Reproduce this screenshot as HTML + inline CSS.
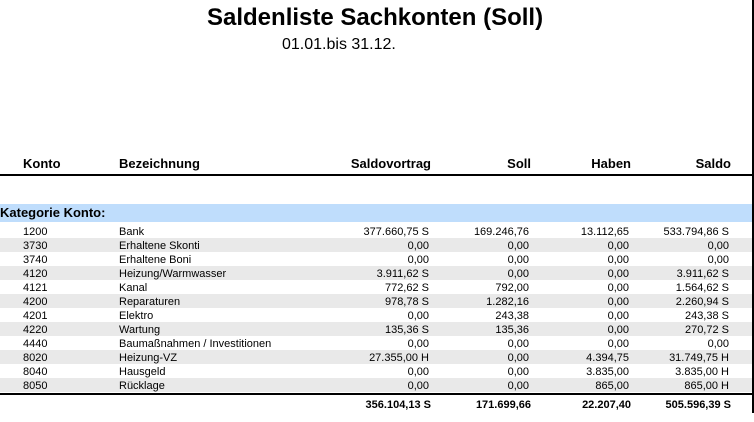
<!DOCTYPE html>
<html><head><meta charset="utf-8"><style>
*{margin:0;padding:0;box-sizing:border-box}
html,body{width:754px;height:422px;background:#fff;overflow:hidden}
body{position:relative;font-family:"Liberation Sans",Arial,sans-serif;color:#000}
.t{position:absolute;white-space:nowrap;line-height:1}
.r{text-align:right}
.b{font-weight:bold}
.row{position:absolute;left:0;width:752px;height:14px}
.g{background:#e9e9e9}
.c{position:absolute;white-space:nowrap;line-height:1;font-size:11px;top:2.5px}
.k{left:23px}
.n{left:119px}
.v1{right:323px}
.v2{right:223px}
.v3{right:123px}
.v4{right:23px}
.row .c.v1,.row .c.v2,.row .c.v3,.row .c.v4{text-align:right}
</style></head><body>
<div style="position:absolute;left:752px;top:0;width:1.5px;height:413px;background:#000"></div>
<div class="t b" style="left:207px;top:5.7px;font-size:24px">Saldenliste Sachkonten (Soll)</div>
<div class="t" style="left:282px;top:36.5px;font-size:16px">01.01.bis 31.12.</div>

<div class="t b" style="left:23px;top:157px;font-size:13px">Konto</div>
<div class="t b" style="left:119px;top:157px;font-size:13px">Bezeichnung</div>
<div class="t b r" style="right:323px;top:157px;font-size:13px">Saldovortrag</div>
<div class="t b r" style="right:223px;top:157px;font-size:13px">Soll</div>
<div class="t b r" style="right:123px;top:157px;font-size:13px">Haben</div>
<div class="t b r" style="right:23px;top:157px;font-size:13px">Saldo</div>
<div style="position:absolute;left:0;top:174px;width:753px;height:2px;background:#000"></div>

<div style="position:absolute;left:0;top:204px;width:752px;height:18px;background:#bfddfc"></div>
<div class="t b" style="left:0;top:206.3px;font-size:13px">Kategorie Konto:</div>

<div class="row" style="top:224px"><span class="c k">1200</span><span class="c n">Bank</span><span class="c v1">377.660,75 S</span><span class="c v2">169.246,76</span><span class="c v3">13.112,65</span><span class="c v4">533.794,86 S</span></div>
<div class="row g" style="top:238px"><span class="c k">3730</span><span class="c n">Erhaltene Skonti</span><span class="c v1">0,00</span><span class="c v2">0,00</span><span class="c v3">0,00</span><span class="c v4">0,00</span></div>
<div class="row" style="top:252px"><span class="c k">3740</span><span class="c n">Erhaltene Boni</span><span class="c v1">0,00</span><span class="c v2">0,00</span><span class="c v3">0,00</span><span class="c v4">0,00</span></div>
<div class="row g" style="top:266px"><span class="c k">4120</span><span class="c n">Heizung/Warmwasser</span><span class="c v1">3.911,62 S</span><span class="c v2">0,00</span><span class="c v3">0,00</span><span class="c v4">3.911,62 S</span></div>
<div class="row" style="top:280px"><span class="c k">4121</span><span class="c n">Kanal</span><span class="c v1">772,62 S</span><span class="c v2">792,00</span><span class="c v3">0,00</span><span class="c v4">1.564,62 S</span></div>
<div class="row g" style="top:294px"><span class="c k">4200</span><span class="c n">Reparaturen</span><span class="c v1">978,78 S</span><span class="c v2">1.282,16</span><span class="c v3">0,00</span><span class="c v4">2.260,94 S</span></div>
<div class="row" style="top:308px"><span class="c k">4201</span><span class="c n">Elektro</span><span class="c v1">0,00</span><span class="c v2">243,38</span><span class="c v3">0,00</span><span class="c v4">243,38 S</span></div>
<div class="row g" style="top:322px"><span class="c k">4220</span><span class="c n">Wartung</span><span class="c v1">135,36 S</span><span class="c v2">135,36</span><span class="c v3">0,00</span><span class="c v4">270,72 S</span></div>
<div class="row" style="top:336px"><span class="c k">4440</span><span class="c n">Baumaßnahmen / Investitionen</span><span class="c v1">0,00</span><span class="c v2">0,00</span><span class="c v3">0,00</span><span class="c v4">0,00</span></div>
<div class="row g" style="top:350px"><span class="c k">8020</span><span class="c n">Heizung-VZ</span><span class="c v1">27.355,00 H</span><span class="c v2">0,00</span><span class="c v3">4.394,75</span><span class="c v4">31.749,75 H</span></div>
<div class="row" style="top:364px"><span class="c k">8040</span><span class="c n">Hausgeld</span><span class="c v1">0,00</span><span class="c v2">0,00</span><span class="c v3">3.835,00</span><span class="c v4">3.835,00 H</span></div>
<div class="row g" style="top:378px"><span class="c k">8050</span><span class="c n">Rücklage</span><span class="c v1">0,00</span><span class="c v2">0,00</span><span class="c v3">865,00</span><span class="c v4">865,00 H</span></div>

<div style="position:absolute;left:0;top:393px;width:753px;height:2px;background:#000"></div>
<div class="t b r" style="right:323px;top:400px;font-size:11px">356.104,13 S</div>
<div class="t b r" style="right:223px;top:400px;font-size:11px">171.699,66</div>
<div class="t b r" style="right:123px;top:400px;font-size:11px">22.207,40</div>
<div class="t b r" style="right:23px;top:400px;font-size:11px">505.596,39 S</div>
</body></html>
